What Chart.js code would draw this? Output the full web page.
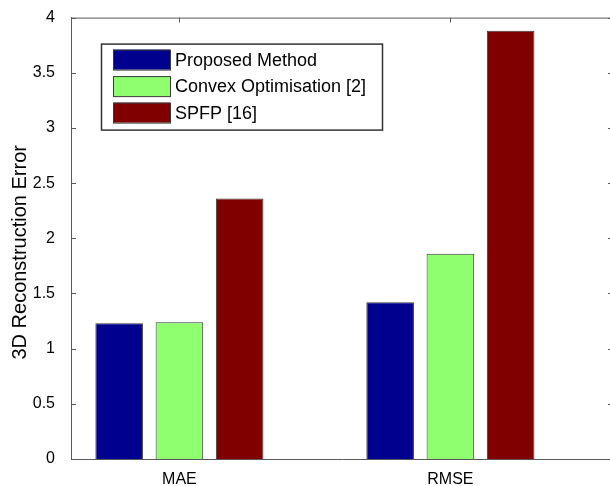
<!DOCTYPE html>
<html>
<head>
<meta charset="utf-8">
<script src="https://cdn.jsdelivr.net/npm/chart.js@4.4.1/dist/chart.umd.min.js"></script>
<style>
  html, body { margin: 0; padding: 0; overflow: hidden; background: #fff; }
  #wrap { position: relative; width: 620px; height: 486px; }
</style>
</head>
<body>
<div id="wrap"><canvas id="myChart"></canvas></div>
<script>
// data
const categories = ["MAE", "RMSE"];
const positions = [1, 2];
const seriesNames = ["Proposed Method", "Convex Optimisation [2]", "SPFP [16]"];
const proposed = [1.23, 1.42];
const convex = [1.24, 1.86];
const spfp = [2.36, 3.88];
const yTicks = [0, 0.5, 1, 1.5, 2, 2.5, 3, 3.5, 4];
const yTitle = "3D Reconstruction Error";

const fontFamily = "'Liberation Sans', Arial, Helvetica, sans-serif";
const axisColor = "#5a5a5a";
const edgeColor = "#3a3a3a";
const colors = ["#00008f", "#8fff70", "#800000"];

function toPoints(values) {
  return positions.map((p, i) => ({ x: p, y: values[i] }));
}

// MATLAB style box: top/right border and ticks pointing inwards
const axesBox = {
  id: "axesBox",
  beforeDatasetsDraw(chart) {
    const { ctx, chartArea: a, scales: { x } } = chart;
    ctx.save();
    ctx.strokeStyle = axisColor;
    ctx.lineWidth = 1;
    ctx.beginPath();
    x.ticks.forEach((t) => {
      const px = Math.round(x.getPixelForValue(t.value)) + 0.5;
      ctx.moveTo(px, a.bottom);
      ctx.lineTo(px, a.bottom - 5);
    });
    ctx.stroke();
    ctx.restore();
  },
  afterDatasetsDraw(chart) {
    const { ctx, chartArea: a, scales: { x, y } } = chart;
    ctx.save();
    ctx.strokeStyle = axisColor;
    ctx.lineWidth = 1;
    ctx.beginPath();
    ctx.moveTo(a.left, a.top + 0.5);
    ctx.lineTo(a.right, a.top + 0.5);
    ctx.moveTo(a.right - 0.5, a.top);
    ctx.lineTo(a.right - 0.5, a.bottom);
    y.ticks.forEach((t) => {
      const py = Math.round(y.getPixelForValue(t.value)) + 0.5;
      ctx.moveTo(a.left, py);
      ctx.lineTo(a.left + 5, py);
      ctx.moveTo(a.right, py);
      ctx.lineTo(a.right - 5, py);
    });
    x.ticks.forEach((t) => {
      const px = Math.round(x.getPixelForValue(t.value)) + 0.5;
      ctx.moveTo(px, a.top);
      ctx.lineTo(px, a.top + 5);
    });
    ctx.stroke();

    // y label, sits a little below the middle of the axis like in the figure
    ctx.fillStyle = "#000";
    ctx.font = "20px " + fontFamily;
    ctx.textAlign = "center";
    ctx.textBaseline = "middle";
    ctx.translate(20, (a.top + a.bottom) / 2 + 14);
    ctx.rotate(-Math.PI / 2);
    ctx.fillText(yTitle, 0, 0);
    ctx.restore();
  }
};

// legend box inside the axes, top left
const boxLegend = {
  id: "boxLegend",
  afterDraw(chart) {
    const { ctx, chartArea: a } = chart;
    const left = a.left + 30, top = a.top + 26;
    const w = 281, h = 86;
    ctx.save();
    ctx.fillStyle = "#fff";
    ctx.fillRect(left, top, w, h);
    ctx.strokeStyle = "#333";
    ctx.lineWidth = 1.5;
    ctx.strokeRect(left + 0.5, top + 0.5, w, h);
    ctx.font = "18px " + fontFamily;
    ctx.textBaseline = "middle";
    chart.data.datasets.forEach((ds, i) => {
      const sy = top + 6 + i * 26.5;
      ctx.fillStyle = ds.backgroundColor;
      ctx.fillRect(left + 12, sy, 57, 20);
      ctx.strokeStyle = edgeColor;
      ctx.lineWidth = 1;
      ctx.strokeRect(left + 12.5, sy + 0.5, 57, 20);
      ctx.fillStyle = "#000";
      ctx.fillText(ds.label, left + 74, sy + 11);
    });
    ctx.restore();
  }
};

const config = {
  type: "bar",
  data: {
    datasets: [proposed, convex, spfp].map((vals, i) => ({
      label: seriesNames[i],
      data: toPoints(vals),
      backgroundColor: colors[i],
      borderColor: edgeColor,
      borderWidth: 1,
      categoryPercentage: 0.667,
      barPercentage: 0.79
    }))
  },
  options: {
    responsive: true,
    maintainAspectRatio: false,
    animation: false,
    devicePixelRatio: 1,
    layout: { padding: { top: 15, right: 7, bottom: 0, left: 0 } },
    plugins: { legend: { display: false }, tooltip: { enabled: false } },
    scales: {
      x: {
        type: "linear",
        offset: false,
        min: 0.6,
        max: 2.6,
        afterBuildTicks: (s) => { s.ticks = positions.map((v) => ({ value: v })); },
        afterFit: (s) => { s.height = 27; },
        grid: { display: false },
        border: { display: true, color: axisColor, width: 1 },
        ticks: {
          autoSkip: false,
          maxRotation: 0,
          padding: 3,
          color: "#000",
          font: { size: 16, family: fontFamily },
          callback: (v) => categories[positions.indexOf(v)] ?? ""
        }
      },
      y: {
        min: 0,
        max: 4,
        afterBuildTicks: (s) => { s.ticks = yTicks.map((v) => ({ value: v })); },
        afterFit: (s) => { s.width = 71; },
        grid: { display: false },
        border: { display: true, color: axisColor, width: 1 },
        ticks: {
          padding: 8,
          color: "#000",
          font: { size: 16, family: fontFamily },
          callback: (v) => String(v)
        }
      }
    }
  },
  plugins: [axesBox, boxLegend]
};

const myChart = new Chart(document.getElementById("myChart"), config);
</script>
</body>
</html>
